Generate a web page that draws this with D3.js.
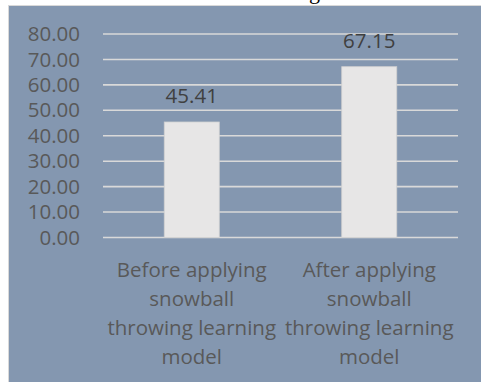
<!DOCTYPE html>
<html>
<head>
<meta charset="utf-8">
<script src="https://cdn.jsdelivr.net/npm/d3@7"></script>
<style>
  html, body { margin: 0; padding: 0; background: #ffffff; }
  svg { display: block; }
</style>
</head>
<body>
<div id="chart"></div>
<script>
// Data
const categories = [
  "Before applying snowball throwing learning model",
  "After applying snowball throwing learning model"
];
const categoryLines = [
  ["Before applying", "snowball", "throwing learning", "model"],
  ["After applying", "snowball", "throwing learning", "model"]
];
const values = [45.41, 67.15];
const yTicks = [0, 10, 20, 30, 40, 50, 60, 70, 80];

const width = 481;
const height = 382;
const margin = {top: 34, right: 23, bottom: 144.5, left: 103};
const font = "'Open Sans', Lato, sans-serif";

const svg = d3.select("#chart").append("svg")
  .attr("width", width)
  .attr("height", height);

// Cut off caption above the panel (only the descender shows)
svg.append("text")
  .attr("x", 309)
  .attr("y", -1)
  .style("font-family", "'Liberation Serif', serif")
  .style("font-size", "22px")
  .style("fill", "#000")
  .text("g");

// Chart panel
svg.append("rect")
  .attr("x", 8.5)
  .attr("y", 5.5)
  .attr("width", width - 8)
  .attr("height", height - 5)
  .attr("fill", "#8497b0")
  .attr("stroke", "#d9d9d9")
  .attr("stroke-width", 1);

const x = d3.scaleBand()
  .domain(categories)
  .range([margin.left, width - margin.right])
  .paddingInner(0.69)
  .paddingOuter(0.345);

const y = d3.scaleLinear()
  .domain([0, 80])
  .range([height - margin.bottom, margin.top]);

// Gridlines
svg.append("g")
  .selectAll("line")
  .data(yTicks)
  .join("line")
  .attr("x1", margin.left)
  .attr("x2", width - margin.right)
  .attr("y1", d => y(d))
  .attr("y2", d => y(d))
  .attr("stroke", "#d9d9d9")
  .attr("stroke-width", 1.6);

// Y axis labels
const yAxis = svg.append("g")
  .attr("transform", `translate(${margin.left - 23},0)`)
  .call(d3.axisLeft(y).tickValues(yTicks).tickFormat(d3.format(".2f")).tickSize(0).tickPadding(0));
yAxis.select(".domain").remove();
yAxis.selectAll("text")
  .style("font-family", font)
  .style("font-size", "20.5px")
  .style("fill", "#595959");

// Bars
svg.append("g")
  .selectAll("rect")
  .data(values)
  .join("rect")
  .attr("x", (d, i) => x(categories[i]))
  .attr("y", d => y(d))
  .attr("width", x.bandwidth())
  .attr("height", d => y(0) - y(d))
  .attr("fill", "#e7e6e6")
  .attr("stroke", "#d0d0d0")
  .attr("stroke-width", 0.8);

// Value labels
svg.append("g")
  .selectAll("text")
  .data(values)
  .join("text")
  .attr("x", (d, i) => x(categories[i]) + x.bandwidth() / 2)
  .attr("y", d => y(d) - 19)
  .attr("text-anchor", "middle")
  .style("font-family", font)
  .style("font-size", "20.5px")
  .style("fill", "#404040")
  .text(d => d3.format(".2f")(d));

// Category labels
const catG = svg.append("g")
  .selectAll("text")
  .data(categories)
  .join("text")
  .attr("x", d => x(d) + x.bandwidth() / 2)
  .attr("y", 277)
  .attr("text-anchor", "middle")
  .style("font-family", font)
  .style("font-size", "20.5px")
  .style("fill", "#595959");

catG.selectAll("tspan")
  .data((d, i) => categoryLines[i])
  .join("tspan")
  .attr("x", function() { return d3.select(this.parentNode).attr("x"); })
  .attr("dy", (d, i) => i === 0 ? 0 : 29)
  .text(d => d);
</script>
</body>
</html>
